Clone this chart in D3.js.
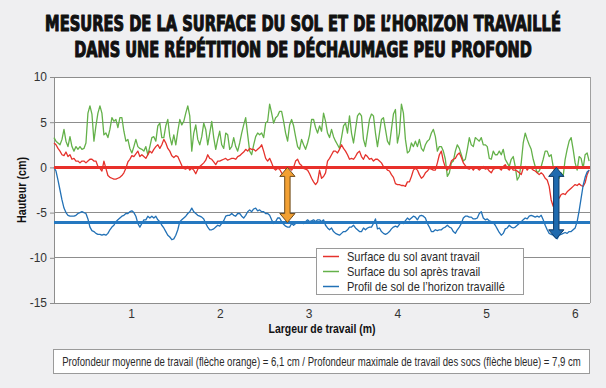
<!DOCTYPE html>
<html><head><meta charset="utf-8">
<script src="https://cdn.jsdelivr.net/npm/d3@7"></script>
<style>
html,body{margin:0;padding:0;background:#efeff1;}
svg{display:block;}
</style>
</head><body>
<svg id="chart" width="606" height="388"></svg>
<script>
// ---------- DATA ----------
const titleLines = [
  "MESURES DE LA SURFACE DU SOL ET DE L\u2019HORIZON TRAVAILLÉ",
  "DANS UNE RÉPÉTITION DE DÉCHAUMAGE PEU PROFOND"
];
const yLabel = "Hauteur (cm)";
const xLabel = "Largeur de travail (m)";
const yTicks = [10, 5, 0, -5, -10, -15];
const xTicks = [1, 2, 3, 4, 5, 6];
const legendLabels = [
  "Surface du sol avant travail",
  "Surface du sol après travail",
  "Profil de sol de l\u2019horizon travaillé"
];
const noteText = "Profondeur moyenne de travail (flèche orange) = 6,1 cm / Profondeur maximale de travail des socs (flèche bleue) = 7,9 cm";

// measurement positions across the working width (m)
const positions = [
0.13,0.1525,0.175,0.1975,0.22,0.2425,0.265,0.2875,
0.31,0.3325,0.355,0.3775,0.4,0.4225,0.445,0.4675,
0.49,0.5125,0.535,0.5575,0.58,0.6025,0.625,0.6475,
0.67,0.6925,0.715,0.7375,0.76,0.7825,0.805,0.8275,
0.85,0.8725,0.895,0.9175,0.94,0.9625,0.985,1.0075,
1.03,1.0525,1.075,1.0975,1.12,1.1425,1.165,1.1875,
1.21,1.2325,1.255,1.2775,1.3,1.3225,1.345,1.3675,
1.39,1.4125,1.435,1.4575,1.48,1.5025,1.525,1.5475,
1.57,1.5925,1.615,1.6375,1.66,1.6825,1.705,1.7275,
1.75,1.7725,1.795,1.8175,1.84,1.8625,1.885,1.9075,
1.93,1.9525,1.975,1.9975,2.02,2.0425,2.065,2.0875,
2.11,2.1325,2.155,2.1775,2.2,2.2225,2.245,2.2675,
2.29,2.3125,2.335,2.3575,2.38,2.4025,2.425,2.4475,
2.47,2.4925,2.515,2.5375,2.56,2.5825,2.605,2.6275,
2.65,2.6725,2.695,2.7175,2.74,2.7625,2.785,2.8075,
2.83,2.8525,2.875,2.8975,2.92,2.9425,2.965,2.9875,
3.01,3.0325,3.055,3.0775,3.1,3.1225,3.145,3.1675,
3.19,3.2125,3.235,3.2575,3.28,3.3025,3.325,3.3475,
3.37,3.3925,3.415,3.4375,3.46,3.4825,3.505,3.5275,
3.55,3.5725,3.595,3.6175,3.64,3.6625,3.685,3.7075,
3.73,3.7525,3.775,3.7975,3.82,3.8425,3.865,3.8875,
3.91,3.9325,3.955,3.9775,4,4.0225,4.045,4.0675,
4.09,4.1125,4.135,4.1575,4.18,4.2025,4.225,4.2475,
4.27,4.2925,4.315,4.3375,4.36,4.3825,4.405,4.4275,
4.45,4.4725,4.495,4.5175,4.54,4.5625,4.585,4.6075,
4.63,4.6525,4.675,4.6975,4.72,4.7425,4.765,4.7875,
4.81,4.8325,4.855,4.8775,4.9,4.9225,4.945,4.9675,
4.99,5.0125,5.035,5.0575,5.08,5.1025,5.125,5.1475,
5.17,5.1925,5.215,5.2375,5.26,5.2825,5.305,5.3275,
5.35,5.3725,5.395,5.4175,5.44,5.4625,5.485,5.5075,
5.53,5.5525,5.575,5.5975,5.62,5.6425,5.665,5.6875,
5.71,5.7325,5.755,5.7775,5.8,5.8225,5.845,5.8675,
5.89,5.9125,5.935,5.9575,5.98,6.0025,6.025,6.0475,
6.07,6.0925,6.115,6.1375,6.16
];

// Surface du sol avant travail (cm)
const surfaceAvant = [
2.7,2.5,2.1,1.8,1.4,1.3,1.7,1.2,1.4,0.9,1.0,0.7,0.7,0.5,0.7,0.7,0.5,0.7,0.9,0.9,0.7,0.7,0.1,-0.1,-0.4,0.7,-0.1,-0.9,-1.1,-1.2,-1.3,-1.3,-1.2,-1.1,-0.9,-0.6,-0.1,0.6,0.9,1.3,1.2,1.5,1.8,
1.2,1.4,1.2,1.0,1.4,1.8,1.6,2.0,2.3,2.5,2.1,2.5,3.1,2.7,2.1,1.8,1.3,1.1,1.3,1.2,0.7,0.2,-0.1,-0.2,0.1,-0.3,-0.1,-0.3,-0.7,-0.2,0.1,0.3,0.5,0.8,1.4,1.0,0.9,0.6,0.3,0.7,0.7,0.8,0.9,1.0,0.8,
0.9,1.0,1.0,0.9,1.2,1.3,1.5,1.7,2.0,1.8,2.1,2.0,2.0,1.8,2.0,2.2,2.5,1.8,1.0,0.7,1.0,0.5,-0.1,-0.3,-0.1,-0.2,-0.6,-0.9,-0.4,-0.2,-0.1,-0.3,0.0,0.7,0.9,0.4,0.2,-0.1,-0.2,-0.3,-0.7,-1.2,-1.6,-1.9,-1.6,
-0.3,-1.2,-1.0,-0.6,0.7,1.0,1.4,1.8,1.8,1.6,2.0,2.5,2.1,1.8,1.4,0.9,1.0,0.9,1.2,1.6,1.8,1.2,0.9,1.4,1.2,0.9,1.0,0.7,0.9,0.9,0.7,0.5,0.1,0.0,-0.3,-0.4,-0.8,-1.1,-1.8,-1.9,-1.9,-2.0,-2.0,-2.1,-1.6,
-1.6,-1.0,-0.3,-0.1,-0.3,-0.8,-1.2,-1.0,-0.6,-0.4,-0.1,-0.2,-0.3,-0.3,0.5,1.4,1.8,0.7,0.0,-0.3,0.0,0.7,0.9,1.0,1.4,1.6,1.1,0.5,0.2,-0.1,-0.2,0.0,-0.3,0.0,-0.1,-0.3,-0.1,0.1,-0.2,-0.1,-0.4,-0.6,-0.2,-0.1,0.0,
-0.1,-0.3,0.1,0.3,-0.1,-0.3,0.0,-0.3,-0.3,-0.4,-0.6,-0.8,-0.1,0.1,-0.3,0.0,-0.1,-0.3,-0.4,-0.6,-0.8,-0.6,-0.8,-1.2,-1.4,-2.1,-3.6,-4.3,-3.0,-3.2,-3.4,-3.0,-2.9,-3.0,-2.7,-2.5,-2.3,-2.1,-1.9,-2.0,-1.8,-2.0,-2.1,-1.7,-0.8,-0.3
];

// Surface du sol après travail (cm)
const surfaceApres = [
3.3,2.9,2.7,2.5,3.1,4.2,2.9,2.3,3.4,2.3,1.8,2.3,2.0,2.3,2.0,2.1,2.7,6.0,6.8,5.9,2.9,4.6,6.0,6.8,6.0,3.6,3.8,3.3,4.2,5.5,5.1,5.3,4.4,5.5,5.5,4.0,2.9,3.1,2.1,1.6,2.3,3.1,2.3,
2.1,2.0,1.8,2.3,1.4,2.3,3.3,3.4,2.9,4.6,4.9,3.3,3.3,4.6,5.3,3.4,2.5,3.6,2.5,4.0,5.3,4.7,5.1,6.0,6.8,5.7,1.8,3.8,4.7,3.1,2.5,3.4,4.9,4.2,2.5,3.8,5.1,3.3,2.0,3.1,4.0,2.5,2.1,3.8,3.6,
2.0,2.3,3.3,2.3,1.8,2.7,3.8,4.7,5.5,3.6,1.8,1.4,2.5,3.4,3.8,3.6,3.8,3.3,4.9,5.1,7.0,6.0,4.9,5.5,5.7,6.2,6.2,5.1,3.8,2.9,4.7,5.3,4.6,3.4,2.3,2.0,3.1,2.5,2.0,2.7,3.6,5.3,5.3,4.4,3.8,
4.6,4.0,6.0,5.1,3.8,3.3,4.2,3.4,2.9,2.5,2.1,3.3,4.6,4.9,3.8,5.7,3.8,2.7,4.2,5.7,6.0,5.7,3.1,2.3,3.8,5.3,5.9,5.7,3.8,2.3,3.8,5.3,5.5,4.2,2.9,2.5,4.2,5.9,6.4,2.7,3.8,7.0,6.0,3.1,1.6,
1.8,2.7,2.3,2.9,2.3,3.1,2.1,1.8,2.5,2.9,3.1,3.8,4.2,3.4,1.8,2.3,2.3,1.8,0.9,-1.0,-0.6,0.5,0.7,1.8,2.5,2.1,1.4,0.7,0.9,2.0,3.3,2.5,2.3,3.3,3.1,2.9,3.3,2.5,2.5,2.3,1.0,0.9,1.8,1.4,1.4,
1.8,1.4,2.0,0.9,0.5,0.1,0.9,1.2,0.1,-1.4,-1.0,0.5,2.7,3.8,3.1,2.5,2.0,0.9,0.1,-0.6,-0.4,0.1,0.9,1.8,1.8,1.2,1.4,0.1,-0.6,0.1,-1.2,-0.6,-1.0,0.9,2.0,2.9,3.3,2.0,0.5,-0.3,1.2,1.0,-0.1,1.4,1.6,0.7
];

// Profil de sol de l'horizon travaillé (cm)
const profilHorizon = [
0.0,-0.4,-1.4,-2.5,-3.6,-4.5,-5.0,-5.3,-5.4,-5.4,-5.4,-5.3,-5.1,-5.0,-4.9,-5.0,-5.1,-5.7,-6.6,-7.0,-7.1,-7.3,-7.4,-7.4,-7.5,-7.4,-7.5,-7.3,-6.9,-6.6,-6.4,-6.0,-5.8,-5.6,-5.4,-5.3,-5.1,-5.1,-4.9,-4.8,-5.0,-5.4,-6.2,
-6.6,-6.2,-5.8,-5.8,-5.4,-5.6,-5.4,-5.6,-5.4,-5.8,-6.0,-6.4,-6.7,-7.1,-7.5,-7.7,-8.0,-7.9,-7.5,-6.9,-6.0,-5.8,-5.6,-5.4,-5.1,-4.9,-4.5,-4.9,-5.1,-5.3,-5.4,-5.5,-5.7,-6.2,-6.6,-6.9,-6.9,-6.8,-6.6,-6.4,-6.5,-6.2,-5.9,-5.4,-5.3,
-5.3,-5.1,-5.3,-5.4,-5.1,-5.1,-5.4,-5.6,-5.3,-4.9,-4.7,-4.9,-4.6,-4.5,-4.8,-4.7,-4.9,-4.9,-5.1,-5.1,-5.3,-5.8,-6.2,-6.0,-5.6,-5.6,-6.0,-6.3,-6.5,-6.6,-6.6,-6.2,-6.4,-6.2,-6.1,-6.2,-6.0,-6.2,-6.0,-5.8,-6.0,-5.9,-5.8,-6.0,-5.8,
-5.8,-6.0,-5.8,-6.4,-6.7,-6.9,-6.7,-7.1,-7.3,-7.4,-7.5,-7.3,-7.1,-7.1,-6.9,-6.6,-6.6,-6.4,-6.7,-6.9,-7.1,-7.1,-6.7,-6.9,-6.7,-6.6,-6.6,-6.2,-5.7,-6.8,-6.7,-7.1,-7.3,-7.4,-7.3,-7.1,-6.8,-6.6,-6.5,-6.6,-6.3,-6.0,-6.2,-5.9,-5.6,
-5.8,-5.6,-5.4,-5.5,-5.8,-5.4,-5.3,-5.4,-5.6,-6.2,-6.6,-7.1,-7.1,-6.9,-7.0,-6.9,-6.9,-6.7,-6.6,-6.4,-6.6,-6.7,-7.1,-7.3,-6.9,-6.6,-6.2,-5.6,-5.4,-5.4,-5.5,-5.5,-5.7,-5.7,-5.6,-5.1,-4.9,-5.6,-5.8,-5.7,-5.9,-6.0,-6.1,-6.4,-6.8,
-7.2,-7.5,-7.3,-6.8,-6.7,-6.4,-6.6,-6.7,-6.6,-6.4,-6.2,-6.0,-5.8,-5.6,-5.7,-5.4,-5.3,-5.4,-5.5,-5.4,-5.5,-5.3,-5.8,-6.4,-6.9,-7.3,-7.4,-7.5,-7.7,-7.9,-7.5,-7.4,-7.3,-7.2,-7.3,-7.1,-7.1,-6.9,-6.7,-6.0,-4.8,-3.4,-2.0,-1.1,-0.5,-0.3
];

const surfaceReference = 0;      // niveau de la surface initiale (cm)
const meanDepth = -6.1;          // profondeur moyenne (flèche orange)
const maxDepth = -7.9;           // profondeur maximale (flèche bleue)
const orangeArrowX = 2.76;       // position de la flèche orange (m)
const blueArrowX = 5.79;         // position de la flèche bleue (m)

// ---------- DRAWING ----------
const C = {red:"#e5322c", green:"#64b14a", blue:"#2271b6", grid:"#8d8d8d", text:"#2a2a2a"};
const sans = "'Liberation Sans',Arial,sans-serif";
const svg = d3.select("#chart");
const plot = {left:54, right:590, top:77, bottom:303};

const x = d3.scaleLinear().domain([0.13, 6.17]).range([plot.left, plot.right]);
const y = d3.scaleLinear().domain([-15, 10]).range([plot.bottom, plot.top]);

// places a text at (px,py) and squeezes it horizontally to the wanted width
function fitText(sel, px, py, width, rotate) {
  const w = sel.node().getComputedTextLength();
  const k = width / w;
  sel.attr("x", 0).attr("y", 0)
     .attr("transform", `translate(${px},${py})${rotate ? " rotate(" + rotate + ")" : ""} scale(${k},1)`);
  return sel;
}

// title
titleLines.forEach((t, i) => {
  const tx = svg.append("text")
    .attr("text-anchor", "middle")
    .attr("font-family", "'DejaVu Sans Condensed','DejaVu Sans',sans-serif")
    .attr("font-weight", "bold")
    .attr("font-size", 22)
    .attr("fill", "#111").attr("stroke", "#111").attr("stroke-width", 1.1)
    .attr("stroke-linejoin", "round")
    .text(t);
  fitText(tx, 303, [31, 57][i], [516, 458][i]);
});

// plot background
svg.append("rect").attr("x", plot.left).attr("y", plot.top)
  .attr("width", plot.right - plot.left).attr("height", plot.bottom - plot.top)
  .attr("fill", "#ffffff");

// horizontal grid
svg.append("g").selectAll("line").data(yTicks).join("line")
  .attr("x1", plot.left).attr("x2", plot.right)
  .attr("y1", d => y(d)).attr("y2", d => y(d))
  .attr("stroke", C.grid).attr("stroke-width", 1).attr("shape-rendering", "crispEdges");
// right border
svg.append("line").attr("x1", plot.right).attr("x2", plot.right)
  .attr("y1", plot.top).attr("y2", plot.bottom)
  .attr("stroke", "#a0a0a0").attr("stroke-width", 1).attr("shape-rendering", "crispEdges");

// y axis
const yAxis = svg.append("g").attr("transform", `translate(${plot.left},0)`)
  .call(d3.axisLeft(y).tickValues(yTicks).tickSize(4).tickPadding(3).tickFormat(d3.format("d")));
yAxis.select(".domain").attr("stroke", C.grid).attr("shape-rendering", "crispEdges");
yAxis.selectAll(".tick line").attr("stroke", C.grid);
yAxis.selectAll("text").attr("font-family", sans).attr("font-size", 12).attr("fill", "#333")
  .text(d => String(d));

// x axis
const xAxis = svg.append("g").attr("transform", `translate(0,${plot.bottom})`)
  .call(d3.axisBottom(x).tickValues(xTicks).tickSize(0).tickPadding(6).tickFormat(d3.format("d")));
xAxis.select(".domain").remove();
xAxis.selectAll("text").attr("font-family", sans).attr("font-size", 12).attr("fill", "#333");

// axis titles
fitText(svg.append("text").attr("text-anchor", "middle").attr("font-family", sans).attr("font-weight", "bold")
  .attr("font-size", 13).attr("fill", "#111").text(yLabel), 26, (plot.top + plot.bottom) / 2, 66, -90);
fitText(svg.append("text").attr("text-anchor", "middle").attr("font-family", sans).attr("font-weight", "bold")
  .attr("font-size", 13).attr("fill", "#111").text(xLabel), (plot.left + plot.right) / 2, 333, 107);

// series
const n = Math.min(positions.length, surfaceAvant.length, surfaceApres.length, profilHorizon.length);
const line = d3.line().x(d => x(d[0])).y(d => y(d[1]));
const pts = arr => d3.range(n).map(i => [positions[i], arr[i]]);
const series = [
  {data: surfaceApres, color: C.green},
  {data: surfaceAvant, color: C.red},
  {data: profilHorizon, color: C.blue}
];
const gSeries = svg.append("g").attr("fill", "none").attr("stroke-linejoin", "round");
series.forEach(s => {
  gSeries.append("path").attr("d", line(pts(s.data)))
    .attr("stroke", s.color).attr("stroke-width", 1.3);
});

// reference lines (surface initiale & profondeur moyenne)
const xDom = x.domain();
svg.append("path").attr("d", line([[xDom[0], surfaceReference], [xDom[1], surfaceReference]]))
  .attr("stroke", "#e8302a").attr("stroke-width", 3).attr("fill", "none");
svg.append("path").attr("d", line([[xDom[0], meanDepth], [xDom[1], meanDepth]]))
  .attr("stroke", "#2578c0").attr("stroke-width", 3).attr("fill", "none");

// double arrows
function doubleArrow(xv, y0v, y1v, fill, stroke) {
  const xc = x(xv), ya = y(y0v), yb = y(y1v);
  const hl = 9, hh = 7.6, sh = 2.7;
  const p = [
    [xc, ya], [xc + hh, ya + hl], [xc + sh, ya + hl], [xc + sh, yb - hl], [xc + hh, yb - hl],
    [xc, yb], [xc - hh, yb - hl], [xc - sh, yb - hl], [xc - sh, ya + hl], [xc - hh, ya + hl]
  ];
  svg.append("path").attr("d", "M" + p.map(q => q.join(",")).join("L") + "Z")
    .attr("fill", fill).attr("stroke", stroke).attr("stroke-width", 1).attr("stroke-linejoin", "miter");
}
doubleArrow(orangeArrowX, surfaceReference, meanDepth, "#f2a033", "#6e4a1c");
doubleArrow(blueArrowX, surfaceReference, maxDepth, "#1f6aae", "#0f3a66");

// legend
const lg = svg.append("g");
lg.append("rect").attr("x", 316.5).attr("y", 248.5).attr("width", 207).attr("height", 46)
  .attr("fill", "#fff").attr("stroke", "#9a9a9a").attr("stroke-width", 1);
const legColors = [C.red, C.green, C.blue];
const legTexts = legendLabels.map((t, i) => {
  const yy = 256.5 + i * 15;
  lg.append("line").attr("x1", 323).attr("x2", 339).attr("y1", yy).attr("y2", yy)
    .attr("stroke", legColors[i]).attr("stroke-width", 1.5);
  return {yy, node: lg.append("text").attr("font-family", sans).attr("font-size", 12.5).attr("fill", C.text).text(t)};
});
const natural = legTexts.map(t => t.node.node().getComputedTextLength());
const f = 158 / d3.max(natural);
legTexts.forEach((t, i) => fitText(t.node, 347, t.yy + 4.3, natural[i] * f));

// note box
svg.append("rect").attr("x", 53.5).attr("y", 349.5).attr("width", 536).attr("height", 24)
  .attr("fill", "#fff").attr("stroke", "#9a9a9a").attr("stroke-width", 1);
fitText(svg.append("text").attr("text-anchor", "middle")
  .attr("font-family", sans).attr("font-size", 12.5).attr("fill", C.text).text(noteText), 321.5, 366, 519);
</script>
</body></html>
